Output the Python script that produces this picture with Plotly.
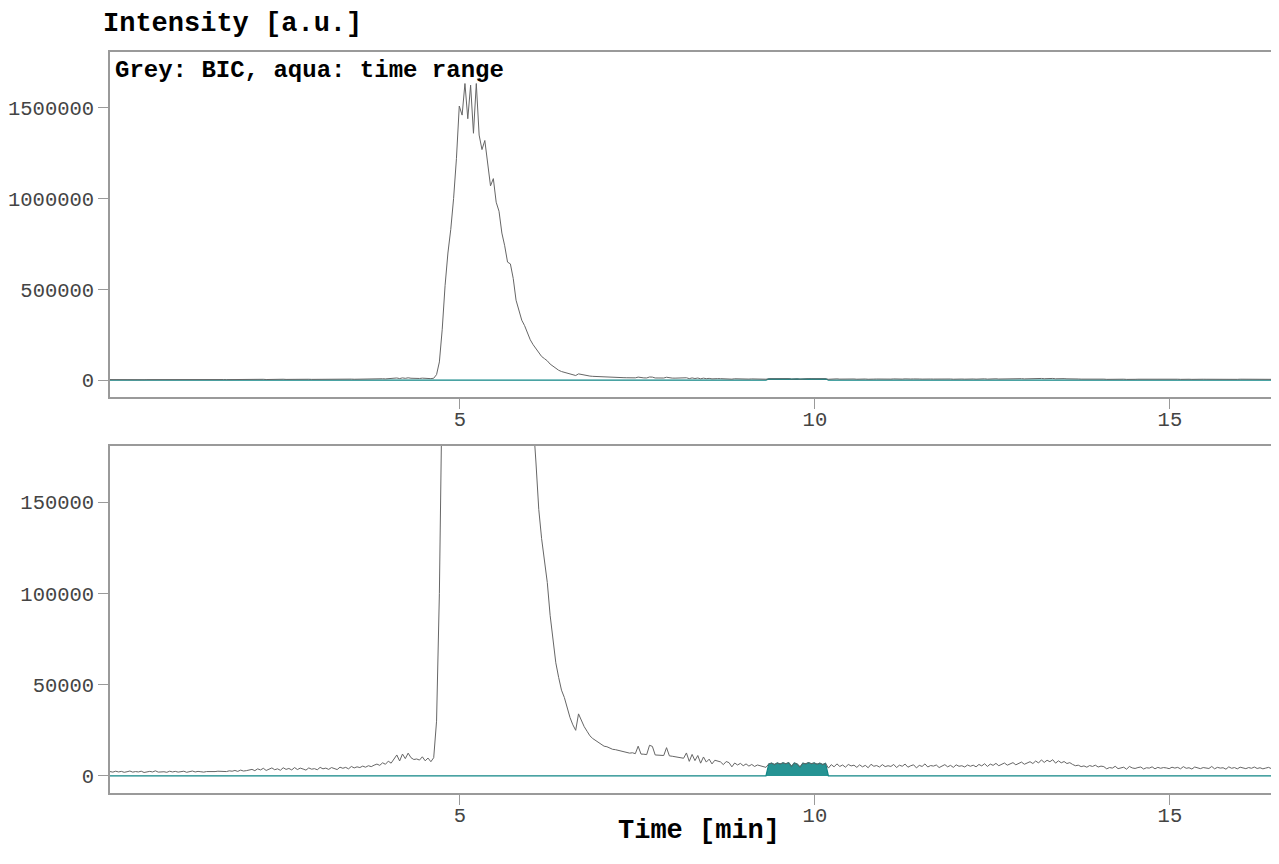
import numpy as np
import plotly.graph_objects as go

# ---- data ----
time_start = 0.07      # min, first scan
time_step = 0.04       # min between scans

bic_rows = [
    [2400, 2100, 2600, 2200, 2500, 2000, 2300, 2700, 2100, 2400, 2200, 2600, 1900, 2300, 2500, 2200, 2800, 2100, 2400, 2300, 2000, 2600, 2200, 2500, 2100],
    [2300, 2600, 2000, 2400, 2700, 2200, 2500, 2300, 2100, 2400, 2300, 2500, 2400, 2600, 2500, 2700, 2400, 2800, 2600, 3000, 2500, 3200, 2700, 2900, 3300],
    [3600, 2900, 3900, 3300, 4200, 3000, 3700, 4400, 3400, 3900, 3100, 4500, 3600, 4100, 3300, 4600, 3500, 4300, 3800, 3200, 4400, 3700, 4000, 3400, 4700],
    [3900, 4300, 3600, 4600, 4100, 3500, 4800, 4200, 4700, 3900, 5200, 4400, 5000, 4600, 5400, 4800, 5600, 5100, 5900, 6500, 5800, 7200, 6400, 8100, 7000],
    [9000, 11500, 8200, 12000, 9500, 12500, 10000, 9000, 9300, 8700, 10500, 8300, 9800, 7800, 10000, 30000, 100000, 280000, 520000, 700000, 830000, 1000000, 1220000, 1510000, 1460000],
    [1634000, 1440000, 1625000, 1360000, 1634000, 1350000, 1270000, 1320000, 1200000, 1070000, 1110000, 980000, 930000, 810000, 740000, 650000, 640000, 560000, 440000, 390000, 330000, 300000, 255000, 222000, 195000],
    [172000, 146000, 130000, 118000, 106000, 88000, 76000, 62000, 54000, 47000, 43000, 37000, 32000, 28000, 25000, 34000, 30000, 27000, 24500, 22000, 20500, 19500, 18500, 17200, 16300],
    [16000, 15200, 14600, 14400, 14000, 13400, 13000, 12800, 12500, 12700, 12200, 16300, 12000, 11900, 11700, 16800, 16200, 11500, 11400, 11300, 11200, 15500, 11000, 10800, 10600],
    [10400, 10200, 9700, 12600, 8000, 11800, 8400, 11200, 7000, 10400, 7600, 9200, 6600, 8600, 8000, 7700, 6200, 7900, 7300, 5000, 7100, 6000, 6900, 5600, 6600],
    [5400, 6300, 5200, 6000, 5500, 5000, 4700, 6600, 7000, 6200, 7100, 6500, 7200, 6700, 7300, 5200, 7100, 6500, 4900, 7000, 6600, 7300, 6700, 7100, 6400],
    [7000, 6200, 6900, 4300, 6200, 5000, 6600, 5200, 6000, 4800, 6300, 5500, 5900, 4700, 6100, 5000, 5800, 4500, 6400, 5300, 5700, 4900, 6200, 5100, 5600],
    [5200, 6300, 4600, 5900, 5300, 6500, 4800, 5600, 6100, 4400, 5800, 5200, 6600, 4900, 5700, 5400, 6000, 4600, 5500, 6200, 5000, 5800, 4700, 6100, 5300],
    [5600, 4900, 6000, 5300, 5900, 5000, 6300, 5500, 6700, 5200, 6500, 5800, 6900, 5600, 6200, 7100, 5900, 6600, 7300, 6100, 6900, 7600, 6400, 7200, 7800],
    [6800, 8200, 7100, 8800, 7400, 8600, 7800, 8900, 7000, 8300, 7200, 7900, 6800, 7300, 6300, 5600, 5900, 5100, 5500, 4800, 5700, 5200, 5900, 4900, 5400],
    [5100, 3900, 4600, 4300, 5300, 4000, 4500, 4800, 3700, 5200, 4400, 4100, 4600, 4900, 3800, 4500, 4300, 5000, 3900, 4700, 4200, 4600, 4400, 4000, 4800],
    [4300, 4700, 3900, 5100, 4200, 4500, 3800, 4900, 4300, 4000, 4600, 4400, 4100, 5200, 3900, 4700, 4300, 4500, 3700, 5000, 4200, 4600, 3900, 4800, 4400],
    [4000, 4600, 4200, 4900, 4100, 4500, 3900, 4300, 4700, 4000, 4400, 3800, 4100, 4500, 4200],
]

range_start = 9.33     # aqua: selected time range (min)
range_end = 10.15

x_ticks = [5, 10, 15]
y_ticks_top = [0, 500000, 1000000, 1500000]
y_ticks_bottom = [0, 50000, 100000, 150000]

title_y = "Intensity [a.u.]"
title_x = "Time [min]"
legend_note = "Grey: BIC, aqua: time range"

# ---- build series ----
bic = np.array([v for row in bic_rows for v in row], dtype=float)
scan_time = np.round(time_start + time_step * np.arange(len(bic)), 2)
in_range = (scan_time >= range_start) & (scan_time <= range_end)
aqua = np.where(in_range, bic, 0.0)

x_range = [0.07, 16.65]
top_range = [-93400, 1807700]
bottom_range = [-9340, 180770]

GREY = "#666666"
TEAL = "#0f8585"
AXIS = "#9a9a9a"
MONO = "Liberation Mono, Courier New, monospace"

fig = go.Figure()
for xa, ya in (("x", "y"), ("x2", "y2")):
    fig.add_trace(go.Scatter(
        x=scan_time, y=aqua, mode="lines", xaxis=xa, yaxis=ya,
        line=dict(color=TEAL, width=1.2), fill="tozeroy",
        fillcolor="rgba(0,128,128,0.85)", hoverinfo="skip", showlegend=False))
    fig.add_trace(go.Scatter(
        x=scan_time, y=bic, mode="lines", xaxis=xa, yaxis=ya,
        line=dict(color=GREY, width=1), showlegend=False))

tickfont = dict(family=MONO, size=20.5, color="#444444")
common_x = dict(range=x_range, tickvals=x_ticks, ticks="outside", ticklen=10,
                tickcolor=AXIS, showline=True, linecolor=AXIS, linewidth=1.5,
                mirror=True, showgrid=False, zeroline=False, tickfont=tickfont,
                ticklabelstandoff=-7)
common_y = dict(ticks="outside", ticklen=10, tickcolor=AXIS, showline=True,
                linecolor=AXIS, linewidth=1.5, showgrid=False, zeroline=False,
                tickfont=tickfont, tickformat="d")

fig.update_layout(
    width=1279, height=864,
    margin=dict(l=102, r=0, t=44, b=79),
    paper_bgcolor="white", plot_bgcolor="white",
    xaxis=dict(common_x, anchor="y", domain=[0, 1]),
    yaxis=dict(common_y, anchor="x", domain=[0.5344, 1], range=top_range,
               tickvals=y_ticks_top),
    xaxis2=dict(common_x, anchor="y2", domain=[0, 1]),
    yaxis2=dict(common_y, anchor="x2", domain=[0, 0.4683], range=bottom_range,
                tickvals=y_ticks_bottom),
    annotations=[
        dict(text="<b>%s</b>" % title_y, xref="paper", yref="paper", x=0, y=1,
             xanchor="left", yanchor="middle", xshift=-9, yshift=28,
             showarrow=False, font=dict(family=MONO, size=27, color="black")),
        dict(text="<b>%s</b>" % legend_note, xref="paper", yref="paper", x=0, y=1,
             xanchor="left", yanchor="top", xshift=3, yshift=-3,
             showarrow=False, font=dict(family=MONO, size=24, color="black")),
        dict(text="<b>%s</b>" % title_x, xref="paper", yref="paper", x=0.5, y=0,
             xanchor="center", yanchor="middle", yshift=-38,
             showarrow=False, font=dict(family=MONO, size=27, color="black")),
    ],
)

fig.write_html("out.html")
